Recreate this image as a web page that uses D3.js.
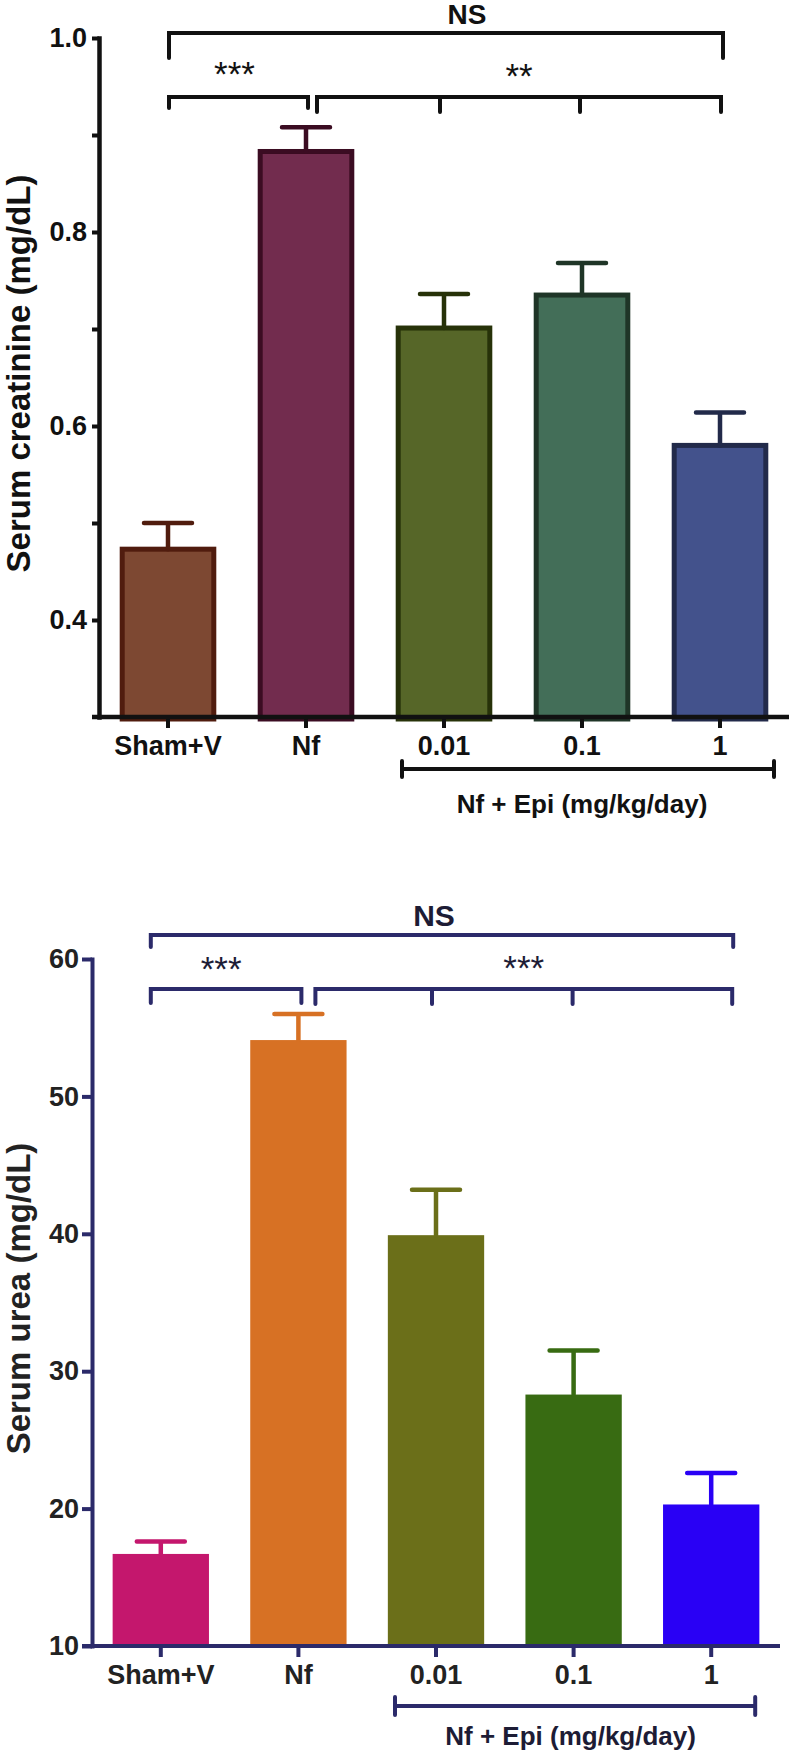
<!DOCTYPE html>
<html>
<head>
<meta charset="utf-8">
<script src="https://cdn.jsdelivr.net/npm/d3@7"></script>
<style>
  body { margin: 0; background: #fff; }
  svg { display: block; font-family: "Liberation Sans", Arial, sans-serif; }
</style>
</head>
<body>
<div id="wrapper"></div>
<script>
// groups on the x axis
const categories = ["Sham+V", "Nf", "0.01", "0.1", "1"];
const doseGroupLabel = "Nf + Epi (mg/kg/day)";

// serum creatinine (mg/dL), mean and SEM
const creatinineMeans = [0.473, 0.883, 0.701, 0.735, 0.580];
const creatinineSems = [0.027, 0.025, 0.035, 0.033, 0.034];
const creatinineTicks = [0.4, 0.6, 0.8, 1.0];
const creatinineMinorTicks = [0.5, 0.7, 0.9];

// serum urea (mg/dL), mean and SEM
const ureaMeans = [16.7, 54.1, 39.9, 28.3, 20.3];
const ureaSems = [0.9, 1.9, 3.3, 3.2, 2.3];
const ureaTicks = [10, 20, 30, 40, 50, 60];

const width = 791;
const height = 1754;

const svg = d3.select("#wrapper")
    .append("svg")
    .attr("width", width)
    .attr("height", height);

svg.append("rect")
    .attr("width", width)
    .attr("height", height)
    .attr("fill", "#fff");

drawPanel({
    means: creatinineMeans,
    sems: creatinineSems,
    ticks: creatinineTicks,
    minorTicks: creatinineMinorTicks,
    tickFormat: d3.format(".1f"),
    domain: [0.3, 1.0],
    yLabel: "Serum creatinine (mg/dL)",
    top: 38, bottom: 717, left: 99, right: 789,
    axisColor: "#111", textColor: "#111", markColor: "#111",
    axisWidth: 4.5, yTickSize: 7, yTickPadding: 5, xAxisStart: -7,
    fills: ["#7d4832", "#722c4e", "#566628", "#436e58", "#43528c"],
    strokes: ["#501c0e", "#3b0c22", "#273209", "#1f3527", "#222a4a"],
    barStroke: 5,
    errorColors: ["#501c0e", "#3b0c22", "#273209", "#1f3527", "#222a4a"],
    groupBracket: { y: 769, from: -42, to: 54, cap: 8, labelY: 813, labelDx: 0 },
    brackets: [
        { from: ["Sham+V", 1], to: ["1", 3], y: 33, drop: 25, inner: [],
          label: "NS", bold: true, size: 28, labelAt: ["0.01", 23], labelY: 24 },
        { from: ["Sham+V", 1], to: ["Nf", 2], y: 97, drop: 11, inner: [],
          label: "***", size: 35, labelDx: -4, labelY: 86 },
        { from: ["Nf", 11], to: ["1", 1], y: 97, drop: 15, inner: [["0.01", -4], ["0.1", -2]],
          label: "**", size: 35, labelDx: 0, labelY: 88 },
    ],
});

drawPanel({
    means: ureaMeans,
    sems: ureaSems,
    ticks: ureaTicks,
    minorTicks: [],
    tickFormat: d3.format("d"),
    domain: [10, 60],
    yLabel: "Serum urea (mg/dL)",
    top: 959, bottom: 1646, left: 92, right: 780,
    axisColor: "#2b2a6a", textColor: "#222", markColor: "#1d1c35",
    axisWidth: 4, yTickSize: 10, yTickPadding: 3, xAxisStart: -10,
    fills: ["#c4176d", "#d77124", "#6b6f19", "#386b12", "#2900f5"],
    strokes: null,
    barStroke: 0,
    errorColors: ["#c4176d", "#d77124", "#6b6f19", "#386b12", "#2900f5"],
    groupBracket: { y: 1706, from: -41, to: 44, cap: 9, labelY: 1745, labelDx: -3 },
    brackets: [
        { from: ["Sham+V", -10], to: ["1", 22], y: 935, drop: 12, inner: [],
          label: "NS", bold: true, size: 30, labelAt: ["0.01", -2], labelY: 926 },
        { from: ["Sham+V", -10], to: ["Nf", 3], y: 989, drop: 14, inner: [],
          label: "***", size: 35, labelDx: -5, labelY: 981 },
        { from: ["Nf", 17], to: ["1", 21], y: 989, drop: 15, inner: [["0.01", -4], ["0.1", -1]],
          label: "***", size: 35, labelDx: 0, labelY: 980 },
    ],
});

function drawPanel(cfg) {
    const boundedWidth = cfg.right - cfg.left;
    const boundedHeight = cfg.bottom - cfg.top;
    const dataset = categories.map((c, i) => ({ name: c, mean: cfg.means[i], sem: cfg.sems[i], i }));

    const bounds = svg.append("g")
        .style("transform", translate(cfg.left, cfg.top));

    const xScale = d3.scaleBand()
        .domain(categories)
        .range([0, boundedWidth])
        .paddingInner(0.3)
        .paddingOuter(0.15);

    const yScale = d3.scaleLinear()
        .domain(cfg.domain)
        .range([boundedHeight, 0]);

    const cx = name => xScale(name) + xScale.bandwidth() / 2;
    const half = cfg.barStroke / 2;

    // bars
    bounds.selectAll(".bar")
        .data(dataset)
        .join("rect")
        .attr("class", "bar")
        .attr("x", d => xScale(d.name) + half)
        .attr("width", xScale.bandwidth() - cfg.barStroke)
        .attr("y", d => yScale(d.mean))
        .attr("height", d => boundedHeight - yScale(d.mean) + 2)
        .attr("fill", d => cfg.fills[d.i])
        .attr("stroke", d => cfg.strokes ? cfg.strokes[d.i] : "none")
        .attr("stroke-width", cfg.barStroke);

    // upper error bars
    bounds.selectAll(".err")
        .data(dataset)
        .join("path")
        .attr("class", "err")
        .attr("d", d => {
            const x = cx(d.name);
            const y0 = yScale(d.mean);
            const y1 = yScale(d.mean + d.sem);
            return `M${x},${y0}V${y1}M${x - 24},${y1}H${x + 24}`;
        })
        .attr("fill", "none")
        .attr("stroke", d => cfg.errorColors[d.i])
        .attr("stroke-width", 4.5)
        .attr("stroke-linecap", "round");

    // y axis
    const yAxis = bounds.append("g")
        .call(d3.axisLeft(yScale)
            .tickValues(cfg.ticks)
            .tickFormat(cfg.tickFormat)
            .tickSize(cfg.yTickSize)
            .tickPadding(cfg.yTickPadding)
            .tickSizeOuter(0));
    yAxis.select(".domain")
        .attr("stroke", cfg.axisColor)
        .attr("stroke-width", cfg.axisWidth)
        .attr("stroke-linecap", "square");
    yAxis.selectAll(".tick line")
        .attr("stroke", cfg.axisColor)
        .attr("stroke-width", 4);
    yAxis.selectAll(".tick text")
        .attr("fill", cfg.textColor)
        .style("font-size", "27px")
        .style("font-weight", "bold")
        .style("font-family", "'Liberation Sans', Arial, sans-serif");

    if (cfg.minorTicks.length) {
        const minorAxis = bounds.append("g")
            .call(d3.axisLeft(yScale)
                .tickValues(cfg.minorTicks)
                .tickFormat("")
                .tickSize(cfg.yTickSize));
        minorAxis.select(".domain").remove();
        minorAxis.selectAll(".tick line")
            .attr("stroke", cfg.axisColor)
            .attr("stroke-width", 4);
    }

    // x axis
    const xAxis = bounds.append("g")
        .style("transform", translateY(boundedHeight))
        .call(d3.axisBottom(xScale)
            .tickSize(11)
            .tickPadding(8)
            .tickSizeOuter(0));
    xAxis.select(".domain").remove();
    xAxis.append("line")
        .attr("x1", cfg.xAxisStart)
        .attr("x2", boundedWidth)
        .attr("stroke", cfg.axisColor)
        .attr("stroke-width", cfg.axisWidth);
    xAxis.selectAll(".tick line")
        .attr("stroke", cfg.axisColor)
        .attr("stroke-width", 4);
    xAxis.selectAll(".tick text")
        .attr("fill", cfg.textColor)
        .style("font-size", "27px")
        .style("font-weight", "bold")
        .style("font-family", "'Liberation Sans', Arial, sans-serif");

    // bracket under the dose groups
    const gb = cfg.groupBracket;
    const gx1 = cx("0.01") + gb.from;
    const gx2 = cx("1") + gb.to;
    svg.append("path")
        .attr("d", `M${cfg.left + gx1},${gb.y - gb.cap}V${gb.y + gb.cap}M${cfg.left + gx1},${gb.y}H${cfg.left + gx2}M${cfg.left + gx2},${gb.y - gb.cap}V${gb.y + gb.cap}`)
        .attr("fill", "none")
        .attr("stroke", cfg.axisColor)
        .attr("stroke-width", 4)
        .attr("stroke-linecap", "round");
    svg.append("text")
        .attr("x", cfg.left + cx("0.1") + gb.labelDx)
        .attr("y", gb.labelY)
        .attr("text-anchor", "middle")
        .attr("fill", cfg.markColor)
        .style("font-size", "26px")
        .style("font-weight", "bold")
        .text(doseGroupLabel);

    // y axis title
    svg.append("text")
        .attr("transform", `translate(30, ${(cfg.top + cfg.bottom) / 2 - 4}) rotate(-90)`)
        .attr("text-anchor", "middle")
        .attr("fill", cfg.textColor)
        .style("font-size", "33px")
        .style("font-weight", "bold")
        .text(cfg.yLabel);

    // significance brackets
    cfg.brackets.forEach(b => {
        const x1 = cfg.left + cx(b.from[0]) + b.from[1];
        const x2 = cfg.left + cx(b.to[0]) + b.to[1];
        let d = `M${x1},${b.y + b.drop}V${b.y}H${x2}V${b.y + b.drop}`;
        b.inner.forEach(([name, dx]) => {
            const xi = cfg.left + cx(name) + dx;
            d += `M${xi},${b.y}V${b.y + b.drop}`;
        });
        svg.append("path")
            .attr("d", d)
            .attr("fill", "none")
            .attr("stroke", cfg.axisColor)
            .attr("stroke-width", 4)
            .attr("stroke-linecap", "round")
            .attr("stroke-linejoin", "miter");

        const lx = b.labelAt
            ? cfg.left + cx(b.labelAt[0]) + b.labelAt[1]
            : (x1 + x2) / 2 + b.labelDx;
        svg.append("text")
            .attr("x", lx)
            .attr("y", b.labelY)
            .attr("text-anchor", "middle")
            .attr("fill", cfg.markColor)
            .style("font-size", `${b.size}px`)
            .style("font-weight", b.bold ? "bold" : "normal")
            .text(b.label);
    });
}

function translate(x, y) {
    return `translate(${x}px, ${y}px)`;
}

function translateY(y) {
    return `translateY(${y}px)`;
}
</script>
</body>
</html>
